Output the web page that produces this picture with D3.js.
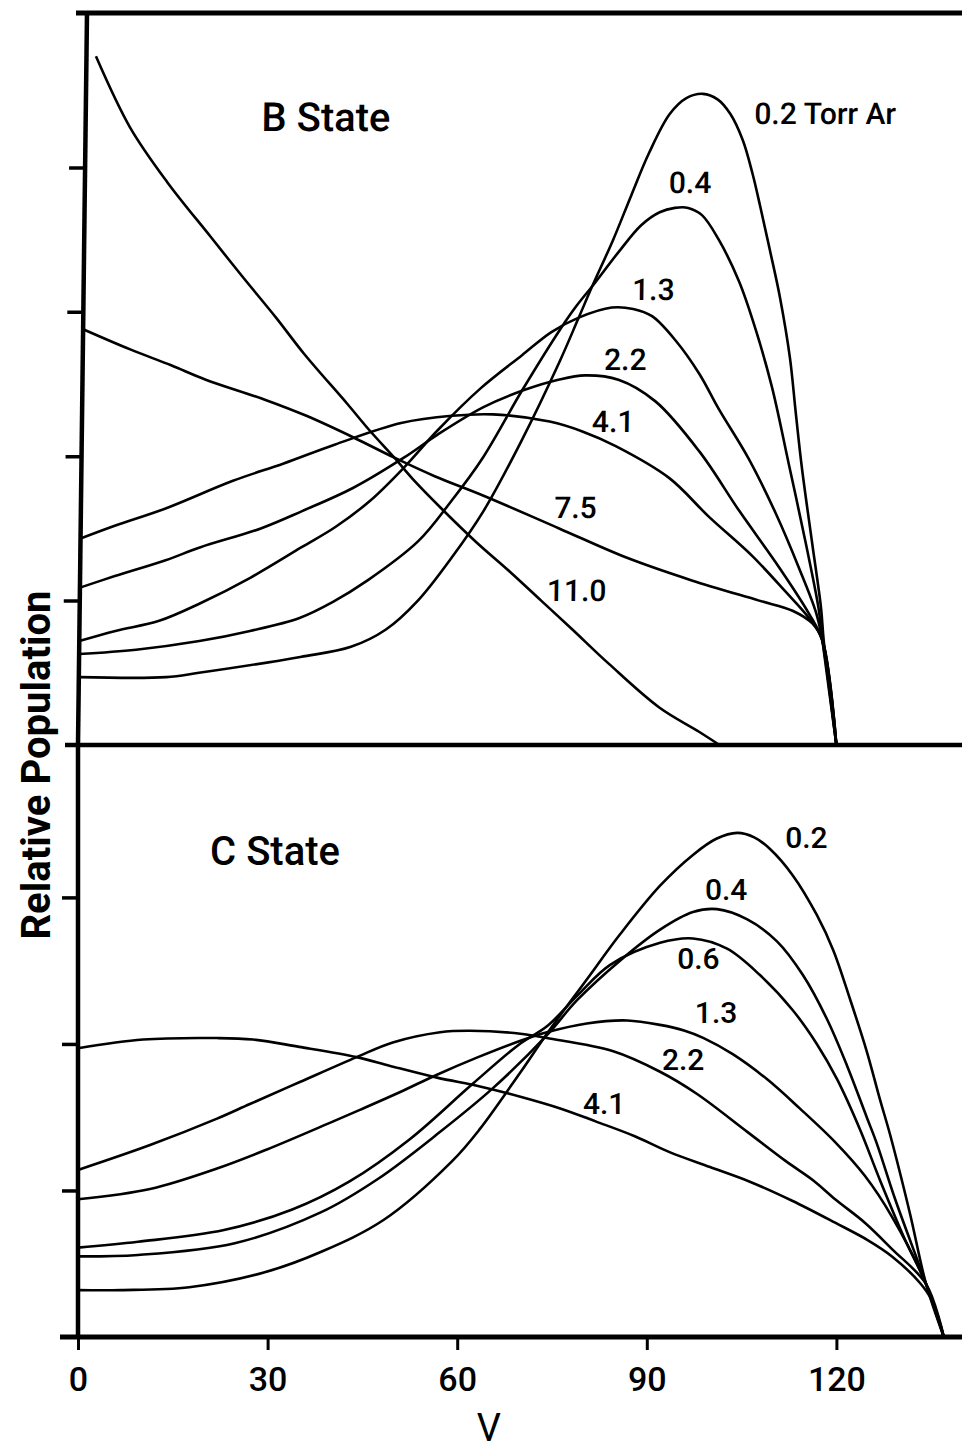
<!DOCTYPE html>
<html>
<head>
<meta charset="utf-8">
<script src="https://cdn.jsdelivr.net/npm/d3@7"></script>
<style>
  body { margin: 0; background: #fff; }
  svg { display: block; font-family: Roboto, "DejaVu Sans", sans-serif; }
</style>
</head>
<body>
<svg id="chart"></svg>
<script>
// ---- data: [V, relative population (tick units)] ----
const xTicks = [0, 30, 60, 90, 120];
const bTicks = [1, 2, 3, 4];
const cTicks = [1, 2, 3];

// B state, Torr Ar
const b02 = [[0,0.47],[13.8,0.47],[19,0.5],[35,0.61],[43,0.68],[48.5,0.8],[53.5,1.0],[58.8,1.3],[63.7,1.62],[69.5,2.1],[75.5,2.66],[78.3,2.95],[80.4,3.17],[83.7,3.5],[86.5,3.81],[89.2,4.1],[92.4,4.37],[95,4.48],[97.6,4.51],[100,4.47],[102,4.37],[104,4.19],[105.6,3.96],[106.9,3.73],[108.5,3.43],[110.2,3.1],[111.9,2.68],[112.9,2.31],[114,1.92],[115.8,1.39],[117.3,0.95],[117.8,0.72],[120,0]];
const b04 = [[0,0.63],[9,0.66],[19,0.72],[27,0.79],[34.8,0.88],[40,0.99],[45.5,1.14],[53.4,1.41],[58.6,1.69],[63.5,1.99],[69.5,2.45],[75.5,2.88],[78,3.04],[80.7,3.19],[84.5,3.41],[88.1,3.6],[91,3.69],[93.4,3.72],[95.5,3.72],[97.7,3.67],[100.4,3.5],[103.7,3.21],[106.4,2.88],[109.1,2.48],[111.9,1.95],[114.8,1.39],[116.9,0.95],[117.6,0.72],[120,0]];
const b13 = [[0,0.72],[5.7,0.79],[12.6,0.86],[19,0.98],[27,1.16],[35,1.37],[40.3,1.51],[45.7,1.69],[51,1.92],[56.3,2.18],[63,2.47],[69.5,2.7],[74.1,2.86],[78.4,2.96],[83.6,3.03],[87,3.02],[90,2.97],[93.8,2.8],[97.6,2.57],[100.7,2.33],[105.6,1.98],[110,1.6],[113.7,1.23],[116.5,0.92],[117.6,0.72],[120,0]];
const b22 = [[0,1.09],[5.5,1.17],[13.5,1.28],[19,1.37],[28.5,1.5],[35,1.62],[43,1.78],[51,1.99],[56.3,2.15],[63.5,2.34],[70,2.46],[75.3,2.53],[79.5,2.56],[84.8,2.53],[90.7,2.38],[97.8,2.03],[104.2,1.62],[110.6,1.23],[115.4,0.91],[117.6,0.72],[120,0]];
const b41 = [[0,1.43],[5.5,1.52],[13.5,1.64],[24,1.83],[32,1.95],[40,2.08],[50.5,2.23],[58.5,2.28],[65,2.29],[74,2.24],[79.3,2.17],[84.5,2.07],[93,1.85],[99.4,1.58],[106.3,1.31],[111.7,1.06],[115.4,0.88],[117.5,0.74],[120,0]];
const b75 = [[0,2.88],[7.5,2.74],[14,2.63],[19.5,2.53],[29,2.39],[35.5,2.28],[43,2.13],[49.5,1.99],[56,1.86],[63.5,1.73],[75.7,1.5],[86.3,1.3],[96.8,1.14],[107.5,1.0],[112.8,0.93],[116,0.84],[117.6,0.72],[120,0]];
const b110 = [[1.5,4.77],[7,4.28],[13,3.9],[20,3.52],[25,3.25],[30.5,2.96],[35,2.71],[42,2.36],[45.5,2.18],[49.5,1.99],[52.5,1.84],[57,1.64],[62.5,1.41],[68,1.2],[73,1.0],[78,0.8],[83.9,0.56],[91.9,0.26],[98.3,0.09],[101.5,0]];

// C state, Torr Ar
const c02 = [[0,0.32],[6.8,0.32],[17.6,0.34],[29.4,0.44],[38.4,0.58],[48.4,0.8],[59.2,1.2],[63.6,1.42],[69.9,1.8],[74.2,2.07],[80.5,2.44],[85.8,2.75],[92.1,3.08],[97.3,3.29],[101,3.4],[104.3,3.44],[107,3.41],[109.5,3.33],[113.1,3.15],[116.9,2.88],[119.5,2.64],[122.2,2.3],[124.8,1.95],[126.9,1.62],[128.5,1.38],[131.6,0.85],[134.2,0.36],[137,0]];
const c04 = [[0,0.55],[9.5,0.56],[24.8,0.64],[38.4,0.85],[47.5,1.08],[57.3,1.4],[65.7,1.7],[74.2,2.06],[79,2.3],[85.8,2.57],[92.1,2.78],[97.3,2.9],[101.1,2.92],[105.9,2.85],[110.6,2.7],[114.7,2.47],[118.5,2.17],[121.7,1.85],[124.8,1.5],[126.4,1.32],[129.3,0.94],[134.2,0.36],[137,0]];
const c06 = [[0,0.61],[9.5,0.65],[23.1,0.73],[33.9,0.87],[42.9,1.06],[52.5,1.35],[62.5,1.73],[69.9,2.0],[74.2,2.12],[79,2.33],[84.2,2.54],[92.1,2.69],[97.3,2.72],[102.7,2.65],[107.9,2.47],[113.1,2.23],[116.9,2.0],[120.1,1.76],[123.7,1.42],[126.9,1.07],[130.9,0.66],[134.2,0.36],[137,0]];
const c13 = [[0,0.94],[11.4,1.01],[22,1.15],[29.9,1.28],[40.3,1.47],[44.6,1.55],[50.9,1.67],[56.8,1.79],[63.3,1.91],[69.9,2.02],[74.2,2.08],[80.5,2.14],[86.9,2.16],[92.1,2.13],[96,2.09],[99,2.04],[103.6,1.93],[109,1.76],[114.2,1.56],[119.8,1.33],[124.5,1.1],[128.8,0.82],[134.2,0.36],[137,0]];
const c22 = [[0,1.14],[11.4,1.31],[22,1.49],[27.2,1.59],[35.1,1.74],[44.1,1.91],[49.8,2.01],[57.3,2.08],[62,2.09],[70,2.07],[74.2,2.04],[84.7,1.95],[92.1,1.81],[97.9,1.66],[105.9,1.4],[112,1.2],[116.3,1.07],[119.8,0.94],[124.5,0.78],[128.8,0.6],[134.2,0.36],[137,0]];
const c41 = [[0,1.97],[10.3,2.03],[22,2.04],[27.7,2.03],[35,1.98],[44.1,1.91],[49.4,1.85],[56.8,1.77],[63.6,1.71],[70,1.64],[76.3,1.56],[82,1.47],[88.1,1.37],[93.7,1.26],[100,1.16],[106.3,1.06],[113,0.93],[119.8,0.78],[125,0.66],[128.8,0.55],[133.2,0.37],[135.1,0.25],[137,0]];

const bSeries = [b02, b04, b13, b22, b41, b75, b110];
const cSeries = [c02, c04, c06, c13, c22, c41];

// curve labels: text, V, population
const bLabels = [['0.2 Torr Ar',105.8,4.30],['0.4',92.4,3.82],['1.3',86.8,3.08],['2.2',82.5,2.60],['4.1',80.7,2.17],['7.5',74.9,1.57],['11.0',73.9,1.0]];
const cLabels = [['0.2',111.9,3.34],['0.4',99.2,2.98],['0.6',94.8,2.51],['1.3',97.6,2.14],['2.2',92.4,1.82],['4.1',79.9,1.52]];

// ---- layout ----
const W = 962, H = 1454;
const svg = d3.select('#chart').attr('width', W).attr('height', H);
svg.append('rect').attr('width', W).attr('height', H).attr('fill', '#fff');

const x = d3.scaleLinear().domain([0, 140]).range([78, 962.8]);
const yB = d3.scaleLinear().domain([0, 5.07]).range([745, 13]);
const yC = d3.scaleLinear().domain([0, 4.04]).range([1337, 745]);

// the printed upper panel leans slightly to the right at its top
const lean = 9 / 732;
const topG = svg.append('g')
  .attr('transform', `translate(${lean * yB(0)},0) skewX(${-Math.atan(lean) * 180 / Math.PI})`);
const botG = svg.append('g');

function drawPanel(g, y, series, labels, ticks, title, titlePos) {
  const line = d3.line()
    .x(d => x(d[0]))
    .y(d => y(d[1]))
    .curve(d3.curveCatmullRom.alpha(0.5));

  g.selectAll('path.curve')
    .data(series)
    .enter()
    .append('path')
    .attr('class', 'curve')
    .attr('d', line)
    .attr('fill', 'none')
    .attr('stroke', '#000')
    .attr('stroke-width', 2.6)
    .attr('stroke-linejoin', 'round');

  const axis = g.append('g')
    .attr('transform', `translate(${x(0)},0)`)
    .call(d3.axisLeft(y).tickValues(ticks).tickSize(16).tickFormat(() => ''));
  axis.select('.domain').remove();
  axis.selectAll('.tick line').attr('stroke', '#000').attr('stroke-width', 3.5);

  // left axis line
  g.append('line')
    .attr('x1', x(0)).attr('x2', x(0))
    .attr('y1', y.range()[1]).attr('y2', y.range()[0])
    .attr('stroke', '#000').attr('stroke-width', 4.5);

  g.selectAll('text.lbl')
    .data(labels)
    .enter()
    .append('text')
    .attr('class', 'lbl')
    .attr('x', d => x(d[1]))
    .attr('y', d => y(d[2]))
    .attr('font-size', 30)
    .attr('font-weight', 500)
    .attr('fill', '#000')
    .text(d => d[0]);

  g.append('text')
    .attr('x', x(titlePos[0]))
    .attr('y', y(titlePos[1]))
    .attr('font-size', 40)
    .attr('font-weight', 500)
    .attr('fill', '#000')
    .text(title);
}

drawPanel(topG, yB, bSeries, bLabels, bTicks, 'B  State', [27.8, 4.25]);
drawPanel(botG, yC, cSeries, cLabels, cTicks, 'C  State', [20.9, 3.22]);

// frame lines
topG.append('line')
  .attr('x1', x(0) - 11).attr('x2', W + 20)
  .attr('y1', yB.range()[1]).attr('y2', yB.range()[1])
  .attr('stroke', '#000').attr('stroke-width', 5);
svg.append('line')
  .attr('x1', x(0) - 13).attr('x2', W)
  .attr('y1', yB(0)).attr('y2', yB(0))
  .attr('stroke', '#000').attr('stroke-width', 4.5);
svg.append('line')
  .attr('x1', x(0) - 18).attr('x2', W)
  .attr('y1', yC(0)).attr('y2', yC(0))
  .attr('stroke', '#000').attr('stroke-width', 5);

// x axis
const xAxis = svg.append('g')
  .attr('transform', `translate(0,${yC(0)})`)
  .call(d3.axisBottom(x).tickValues(xTicks).tickSize(13).tickPadding(17));
xAxis.select('.domain').remove();
xAxis.selectAll('.tick line').attr('stroke', '#000').attr('stroke-width', 3);
xAxis.selectAll('.tick text')
  .attr('fill', '#000')
  .attr('font-size', 34)
  .attr('font-weight', 500)
  .attr('font-family', 'Roboto, "DejaVu Sans", sans-serif');

svg.append('text')
  .attr('x', x(65))
  .attr('y', H - 13)
  .attr('text-anchor', 'middle')
  .attr('font-size', 38)
  .attr('fill', '#000')
  .text('V');

svg.append('text')
  .attr('transform', `translate(50,${yB(0) + 20}) rotate(-90)`)
  .attr('text-anchor', 'middle')
  .attr('font-size', 40)
  .attr('font-weight', 700)
  .attr('fill', '#000')
  .text('Relative  Population');
</script>
</body>
</html>
